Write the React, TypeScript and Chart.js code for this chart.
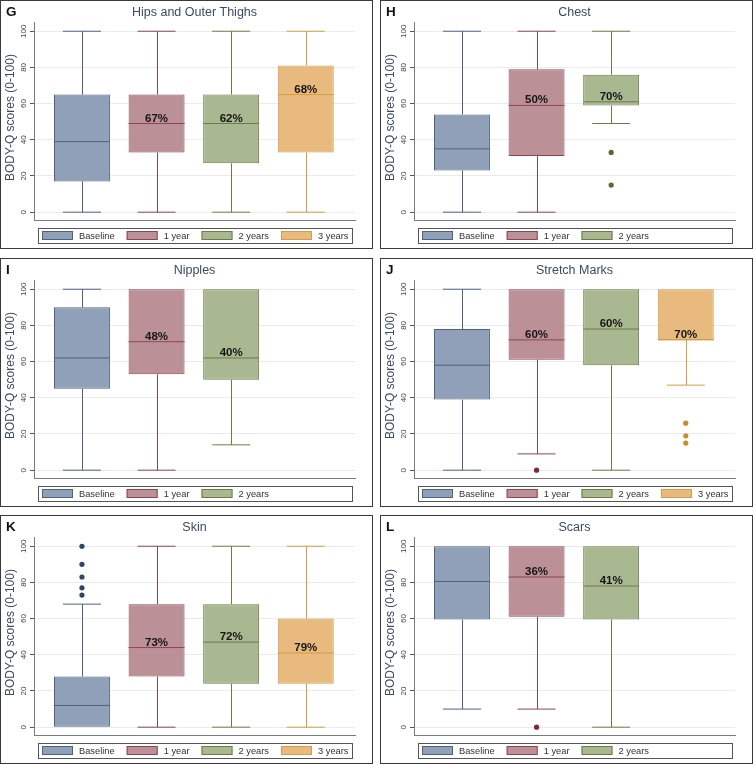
import React, { useEffect, useRef } from 'react';
import { Chart, registerables } from 'chart.js';

Chart.register(...registerables);

const FONT = '"Liberation Sans", Arial, Helvetica, sans-serif';

const GROUPS = ['Baseline', '1 year', '2 years', '3 years'];
const GROUP_X = [1, 2, 3, 4];
const BOX_FILL = ['#8fa0b8', '#bb9197', '#a9b891', '#e9ba7d'];
const BOX_LINE = ['#4d6281', '#8e4453', '#6c7c47', '#d49b48'];
const DOT_COLOR = ['#2e4567', '#7b2a37', '#5a6a32', '#d08a2e'];
const Y_TICKS = [0, 20, 40, 60, 80, 100];
const Y_TITLE = 'BODY-Q scores (0-100)';

// each row: [lower whisker, Q1, median, Q3, upper whisker]
const hipsStats = [[0, 17, 39, 65, 100], [0, 33, 49, 65, 100], [0, 27, 49, 65, 100], [0, 33, 65, 81, 100]];
const hipsPct = ['', '67%', '62%', '68%'];
const hipsOut = [[], [], [], []];

const chestStats = [[0, 23, 35, 54, 100], [0, 31, 59, 79, 100], [49, 59, 61, 76, 100]];
const chestPct = ['', '50%', '70%'];
const chestOut = [[], [], [33, 15]];

const nipplesStats = [[0, 45, 62, 90, 100], [0, 53, 71, 100, 100], [14, 50, 62, 100, 100]];
const nipplesPct = ['', '48%', '40%'];
const nipplesOut = [[], [], []];

const stretchStats = [[0, 39, 58, 78, 100], [9, 61, 72, 100, 100], [0, 58, 78, 100, 100], [47, 72, 72, 100, 100]];
const stretchPct = ['', '60%', '60%', '70%'];
const stretchOut = [[], [0], [], [26, 19, 15]];

const skinStats = [[0, 0, 12, 28, 68], [0, 28, 44, 68, 100], [0, 24, 47, 68, 100], [0, 24, 41, 60, 100]];
const skinPct = ['', '73%', '72%', '79%'];
const skinOut = [[100, 90, 83, 77, 73], [], [], []];

const scarsStats = [[10, 59.5, 80.5, 100, 100], [10, 61, 83, 100, 100], [0, 59.5, 78, 100, 100]];
const scarsPct = ['', '36%', '41%'];
const scarsOut = [[], [0], []];

const PANELS = [
  { letter: 'G', title: 'Hips and Outer Thighs', stats: hipsStats, pct: hipsPct, out: hipsOut },
  { letter: 'H', title: 'Chest', stats: chestStats, pct: chestPct, out: chestOut },
  { letter: 'I', title: 'Nipples', stats: nipplesStats, pct: nipplesPct, out: nipplesOut },
  { letter: 'J', title: 'Stretch Marks', stats: stretchStats, pct: stretchPct, out: stretchOut },
  { letter: 'K', title: 'Skin', stats: skinStats, pct: skinPct, out: skinOut },
  { letter: 'L', title: 'Scars', stats: scarsStats, pct: scarsPct, out: scarsOut },
];

const COLS = [0, 380];
const ROWS = [0, 258, 515];
const CW = 371;
const CH = 247;

type PanelDef = typeof PANELS[number];

function makeExtras(p: PanelDef) {
  return {
    id: 'boxExtras',
    afterDatasetsDraw(chart: any) {
      const { ctx } = chart;
      const ys = chart.scales.y;
      ctx.save();
      p.stats.forEach((s: number[], i: number) => {
        const bar: any = chart.getDatasetMeta(i).data[0];
        if (!bar) return;
        const cx = bar.x;
        const hw = bar.width / 2;
        const cw = bar.width * 0.34;
        const [lo, q1, med, q3, hi] = s;
        const px = Math.round(cx) + 0.5;
        ctx.strokeStyle = BOX_LINE[i];
        ctx.lineWidth = 1;
        ctx.beginPath();
        if (hi > q3) {
          const yq = ys.getPixelForValue(q3);
          const yh = ys.getPixelForValue(hi);
          ctx.moveTo(px, yq);
          ctx.lineTo(px, yh);
          ctx.moveTo(cx - cw, yh);
          ctx.lineTo(cx + cw, yh);
        }
        if (lo < q1) {
          const yq = ys.getPixelForValue(q1);
          const yl = ys.getPixelForValue(lo);
          ctx.moveTo(px, yq);
          ctx.lineTo(px, yl);
          ctx.moveTo(cx - cw, yl);
          ctx.lineTo(cx + cw, yl);
        }
        const ym = ys.getPixelForValue(med);
        ctx.moveTo(cx - hw, ym);
        ctx.lineTo(cx + hw, ym);
        ctx.stroke();
        if (p.pct[i]) {
          ctx.font = `bold 11.5px ${FONT}`;
          ctx.fillStyle = '#151515';
          ctx.textAlign = 'center';
          ctx.textBaseline = 'alphabetic';
          ctx.fillText(p.pct[i], cx, ym - 2);
        }
      });
      ctx.restore();
    },
    afterDraw(chart: any) {
      const { ctx, chartArea } = chart;
      const ys = chart.scales.y;
      ctx.save();
      // panel letter
      ctx.font = `bold 13.5px ${FONT}`;
      ctx.fillStyle = '#111';
      ctx.textAlign = 'left';
      ctx.textBaseline = 'alphabetic';
      ctx.fillText(p.letter, 5, 14.5);
      // title
      ctx.font = `12.5px ${FONT}`;
      ctx.fillStyle = '#3c4a66';
      ctx.textAlign = 'center';
      ctx.fillText(p.title, (chartArea.left + chartArea.right) / 2, 15);
      // y title
      ctx.save();
      ctx.translate(12.5, 116.5);
      ctx.rotate(-Math.PI / 2);
      ctx.font = `12px ${FONT}`;
      ctx.fillText(Y_TITLE, 0, 0);
      ctx.restore();
      // tick labels
      ctx.font = `8px ${FONT}`;
      ctx.fillStyle = '#444';
      ys.ticks.forEach((t: any) => {
        const y = ys.getPixelForValue(t.value);
        ctx.save();
        ctx.translate(25, y);
        ctx.rotate(-Math.PI / 2);
        ctx.textAlign = 'center';
        ctx.fillText(String(t.value), 0, 0);
        ctx.restore();
      });
      // legend
      const lx = chartArea.left + 4;
      const lw = chartArea.right - 3 - lx;
      ctx.strokeStyle = '#555';
      ctx.lineWidth = 1;
      ctx.strokeRect(Math.round(lx) + 0.5, 227.5, Math.round(lw), 15);
      let x = Math.round(lx) + 4;
      ctx.font = `9.3px ${FONT}`;
      ctx.textAlign = 'left';
      p.stats.forEach((_s: number[], i: number) => {
        ctx.fillStyle = BOX_FILL[i];
        ctx.fillRect(x, 230, 31, 8.5);
        ctx.strokeStyle = BOX_LINE[i];
        ctx.strokeRect(x + 0.5, 230.5, 30, 8);
        ctx.fillStyle = '#333';
        ctx.fillText(GROUPS[i], x + 37, 238.3);
        x += 37 + ctx.measureText(GROUPS[i]).width + 12;
      });
      ctx.restore();
    },
  };
}

function Panel({ p, left, top }: { p: PanelDef; left: number; top: number }) {
  const ref = useRef<HTMLCanvasElement>(null);
  useEffect(() => {
    if (!ref.current) return;
    const datasets: any[] = [];
    p.stats.forEach((s, i) => {
      datasets.push({
        type: 'bar',
        label: GROUPS[i],
        data: [{ x: GROUP_X[i], y: [s[1], s[3]] }],
        backgroundColor: BOX_FILL[i],
        borderColor: BOX_LINE[i],
        borderWidth: 1,
        borderSkipped: false,
        grouped: false,
        barPercentage: 0.75,
        categoryPercentage: 1,
      });
    });
    p.out.forEach((o, i) => {
      if (!o.length) return;
      datasets.push({
        type: 'scatter',
        label: GROUPS[i] + ' outliers',
        data: o.map((v) => ({ x: GROUP_X[i], y: v })),
        pointRadius: 2.6,
        pointHoverRadius: 2.6,
        pointBackgroundColor: DOT_COLOR[i],
        pointBorderWidth: 0,
        showLine: false,
      });
    });
    const chart = new Chart(ref.current, {
      type: 'bar',
      data: { datasets },
      options: {
        animation: false,
        responsive: false,
        devicePixelRatio: 1,
        events: [],
        layout: { padding: { top: 21, right: 17, left: 0, bottom: 0 } },
        plugins: { legend: { display: false }, title: { display: false }, tooltip: { enabled: false } },
        scales: {
          x: {
            type: 'linear',
            min: 0.357,
            max: 4.66,
            offset: false,
            ticks: { display: false },
            grid: { display: false },
            border: { display: true, color: '#7a7a7a', width: 1 },
            afterBuildTicks: (sc: any) => {
              sc.ticks = GROUP_X.map((v) => ({ value: v }));
            },
            afterFit: (sc: any) => {
              sc.height = 27.5;
            },
          },
          y: {
            type: 'linear',
            min: -4.6,
            max: 105.1,
            ticks: { display: false },
            grid: { color: '#ebebeb', lineWidth: 1, drawTicks: true, tickLength: 4, tickColor: '#555' },
            border: { display: true, color: '#7a7a7a', width: 1 },
            afterBuildTicks: (sc: any) => {
              sc.ticks = Y_TICKS.map((v) => ({ value: v }));
            },
            afterFit: (sc: any) => {
              sc.width = 33;
            },
          },
        },
      } as any,
      plugins: [makeExtras(p)],
    });
    return () => chart.destroy();
  }, [p]);
  return (
    <div
      style={{
        position: 'absolute',
        left,
        top,
        width: CW,
        height: CH,
        border: '1px solid #3a3a3a',
        background: '#fff',
      }}
    >
      <canvas ref={ref} width={CW} height={CH} style={{ display: 'block', width: CW, height: CH }} />
    </div>
  );
}

export default function App() {
  return (
    <div style={{ position: 'fixed', left: 0, top: 0, width: 753, height: 765, background: '#fff' }}>
      {PANELS.map((p, k) => (
        <Panel key={p.letter} p={p} left={COLS[k % 2]} top={ROWS[Math.floor(k / 2)]} />
      ))}
    </div>
  );
}
